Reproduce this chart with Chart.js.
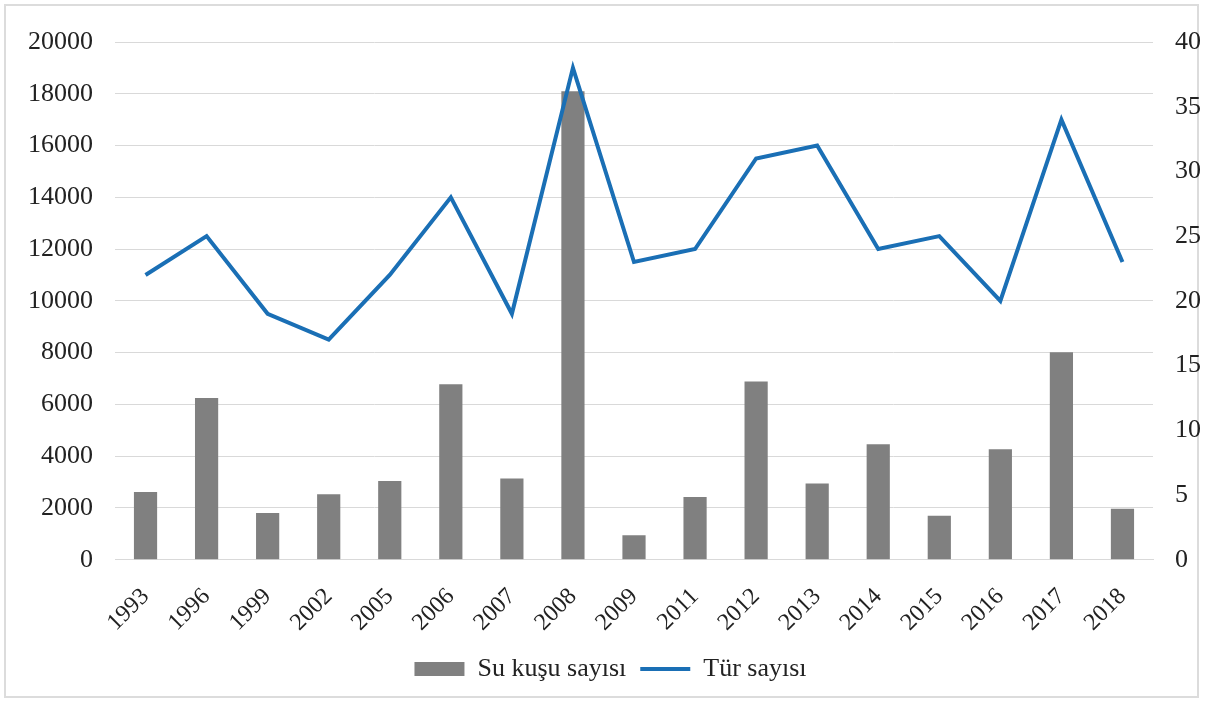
<!DOCTYPE html>
<html>
<head>
<meta charset="utf-8">
<script src="https://cdn.jsdelivr.net/npm/chart.js@4"></script>
<style>
  body { margin: 0; background: #fff; }
  #frame { position: absolute; left: 4px; top: 4px; width: 1195px; height: 694px; border: 2px solid #dcdcdc; box-sizing: border-box; }
  #chart { position: absolute; left: 0; top: 0; }
</style>
</head>
<body>
<div id="frame"></div>
<canvas id="chart" width="1205" height="702"></canvas>
<script>
const years = ["1993","1996","1999","2002","2005","2006","2007","2008","2009","2011","2012","2013","2014","2015","2016","2017","2018"];
const birdCounts = [2620, 6250, 1800, 2530, 3040, 6780, 3140, 18100, 940, 2420, 6880, 2940, 4460, 1700, 4270, 8010, 1970];
const speciesCounts = [22, 25, 19, 17, 22, 28, 19, 38, 23, 24, 31, 32, 24, 25, 20, 34, 23];
const leftTicks = [0, 20000, 2000];
const rightTicks = [0, 40, 5];

const serif = "'Liberation Serif', 'Times New Roman', serif";

new Chart(document.getElementById("chart"), {
  data: {
    labels: years,
    datasets: [
      {
        type: "bar",
        label: "Su kuşu sayısı",
        data: birdCounts,
        backgroundColor: "#808080",
        barPercentage: 0.38,
        categoryPercentage: 1,
        yAxisID: "y",
        pointStyle: "rect",
        order: 2
      },
      {
        type: "line",
        label: "Tür sayısı",
        data: speciesCounts,
        borderColor: "#1a6fb5",
        backgroundColor: "#1a6fb5",
        borderWidth: 4,
        pointRadius: 0,
        tension: 0,
        yAxisID: "y1",
        pointStyle: "line",
        order: 1
      }
    ]
  },
  options: {
    responsive: false,
    animation: false,
    layout: { padding: { left: 6, right: -10, top: 42, bottom: 10 } },
    plugins: {
      tooltip: { enabled: false },
      legend: {
        position: "bottom",
        labels: {
          usePointStyle: true,
          pointStyleWidth: 50,
          boxHeight: 14,
          color: "#222",
          font: { family: serif, size: 26 },
          padding: 14,
          sort: (a, b) => a.datasetIndex - b.datasetIndex
        }
      }
    },
    scales: {
      x: {
        grid: { display: false },
        border: { color: "#d9d9d9" },
        ticks: { color: "#222", font: { family: serif, size: 24 }, minRotation: 45, maxRotation: 45, padding: 15 },
        afterFit: s => { s.paddingLeft = 0; s.paddingRight = 0; s.height -= 10; }
      },
      y: {
        position: "left",
        min: leftTicks[0], max: leftTicks[1],
        ticks: { stepSize: leftTicks[2], color: "#222", font: { family: serif, size: 26 }, padding: 22,
          callback: v => String(v) },
        grid: { color: "#d9d9d9", drawTicks: false },
        border: { display: false }
      },
      y1: {
        position: "right",
        min: rightTicks[0], max: rightTicks[1],
        ticks: { stepSize: rightTicks[2], color: "#222", font: { family: serif, size: 26 }, padding: 14 },
        grid: { display: false },
        border: { display: false }
      }
    }
  }
});
</script>
</body>
</html>
